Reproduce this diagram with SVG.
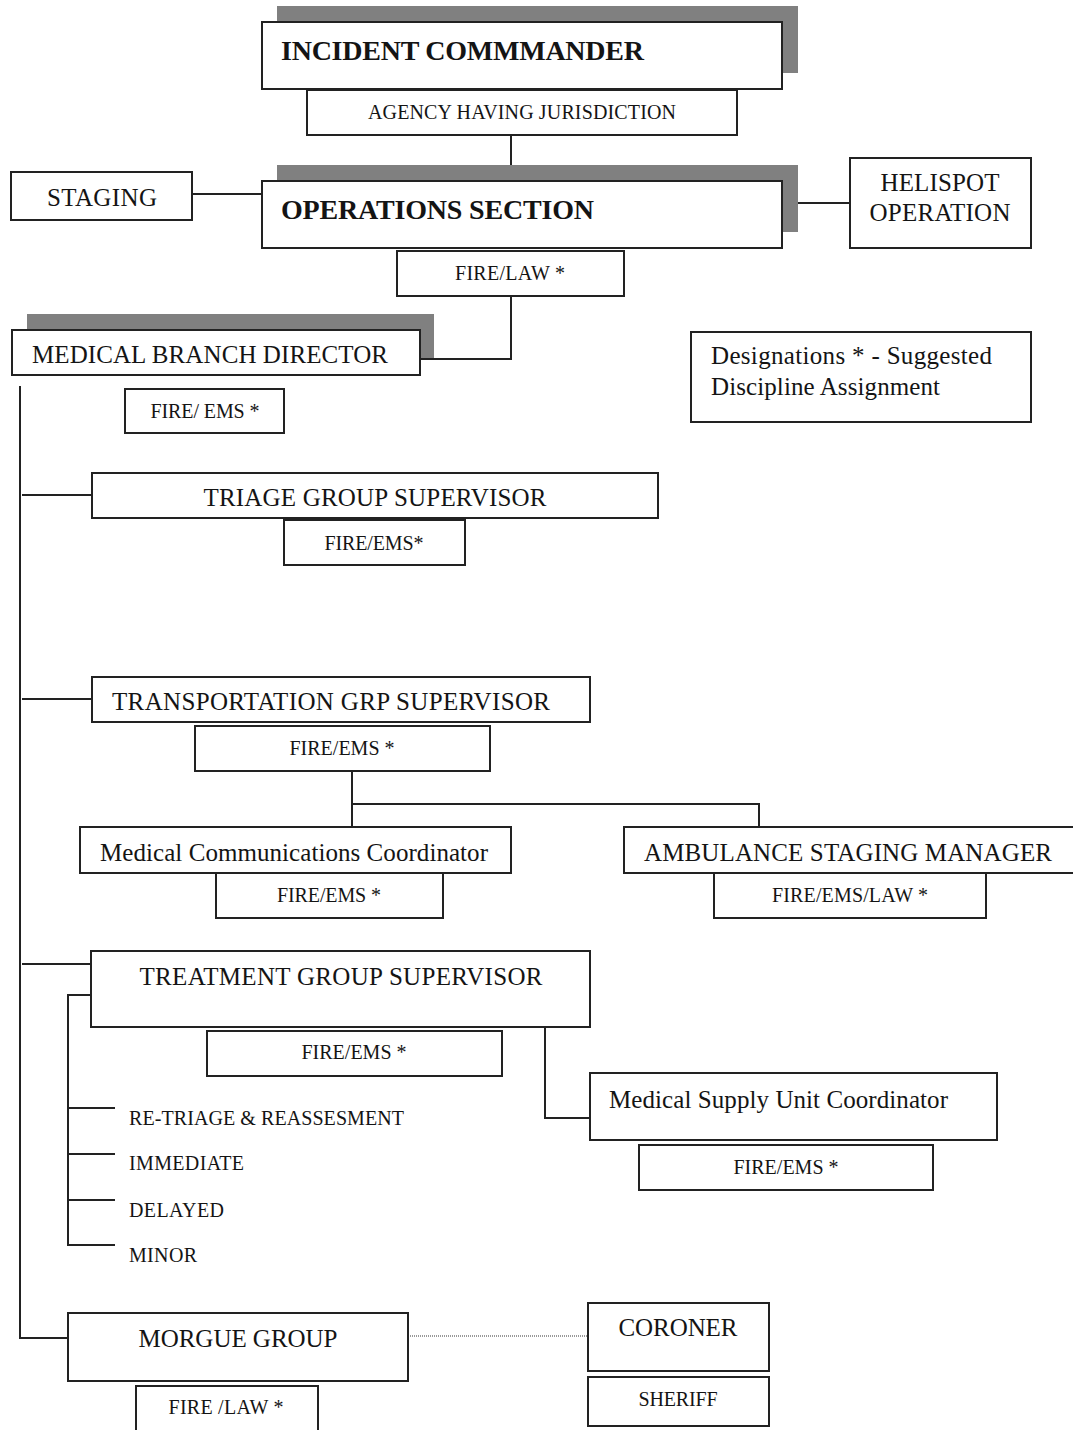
<svg xmlns="http://www.w3.org/2000/svg" width="1073" height="1430" viewBox="0 0 1073 1430">
<style>
.b{fill:#fff;stroke:#222;stroke-width:2}
.s{fill:#808080;stroke:none}
.c{fill:none;stroke:#222;stroke-width:2}
text{font-family:"Liberation Serif","Times New Roman",serif;fill:#141414}
.h{font-weight:bold;font-size:28px}
.m{font-size:25px}
.sm{font-size:20px}
.t{font-size:20px}
.mid{text-anchor:middle}
</style>
<rect width="1073" height="1430" fill="#fff"/>
<g id="connectors">
<path class="c" d="M511,135V165"/>
<path class="c" d="M192,194H262"/>
<path class="c" d="M782,203H850"/>
<path class="c" d="M511,296V359H420"/>
<path class="c" d="M20,386V1338H68"/>
<path class="c" d="M22,495H92"/>
<path class="c" d="M22,699H92"/>
<path class="c" d="M352,771V827"/>
<path class="c" d="M352,804H759V827"/>
<path class="c" d="M22,964H91"/>
<path class="c" d="M91,995H68V1245H115M68,1108H115M68,1154H115M68,1200H115"/>
<path class="c" d="M545,1027V1118H590"/>
<path d="M408,1336H588" fill="none" stroke="#999" stroke-width="2" stroke-dasharray="1,1"/>
</g>
<g id="incident-commander">
<rect class="s" x="277" y="6" width="521" height="67"/>
<rect class="b" x="262" y="22" width="520" height="67"/>
<text class="h" x="281" y="60" textLength="363">INCIDENT COMMMANDER</text>
</g>
<g id="agency">
<rect class="b" x="307" y="90" width="430" height="45"/>
<text class="sm mid" x="522" y="119" textLength="308">AGENCY HAVING JURISDICTION</text>
</g>
<g id="operations">
<rect class="s" x="277" y="165" width="521" height="67"/>
<rect class="b" x="262" y="181" width="520" height="67"/>
<text class="h" x="281" y="219" textLength="313">OPERATIONS SECTION</text>
</g>
<g id="staging">
<rect class="b" x="11" y="172" width="181" height="48"/>
<text class="m mid" x="102" y="206" textLength="110">STAGING</text>
</g>
<g id="helispot">
<rect class="b" x="850" y="158" width="181" height="90"/>
<text class="m mid" x="940" y="191" textLength="119">HELISPOT</text>
<text class="m mid" x="940" y="221" textLength="141">OPERATION</text>
</g>
<g id="ops-fire-law">
<rect class="b" x="397" y="251" width="227" height="45"/>
<text class="sm mid" x="510" y="280" textLength="110">FIRE/LAW *</text>
</g>
<g id="medical-branch">
<rect class="s" x="27" y="314" width="407" height="44"/>
<rect class="b" x="12" y="330" width="408" height="45"/>
<text class="m" x="32" y="363" textLength="356">MEDICAL BRANCH DIRECTOR</text>
</g>
<g id="mb-fire-ems">
<rect class="b" x="125" y="389" width="159" height="44"/>
<text class="sm mid" x="205" y="418" textLength="109">FIRE/ EMS *</text>
</g>
<g id="designations">
<rect class="b" x="691" y="332" width="340" height="90"/>
<text class="m" x="711" y="364" textLength="281">Designations * -  Suggested</text>
<text class="m" x="711" y="395" textLength="229">Discipline Assignment</text>
</g>
<g id="triage">
<rect class="b" x="92" y="473" width="566" height="45"/>
<text class="m mid" x="375" y="506" textLength="343">TRIAGE GROUP SUPERVISOR</text>
</g>
<g id="triage-fire-ems">
<rect class="b" x="284" y="520" width="181" height="45"/>
<text class="sm mid" x="374" y="550" textLength="99">FIRE/EMS*</text>
</g>
<g id="transportation">
<rect class="b" x="92" y="677" width="498" height="45"/>
<text class="m mid" x="331" y="710" textLength="438">TRANSPORTATION GRP SUPERVISOR</text>
</g>
<g id="trans-fire-ems">
<rect class="b" x="195" y="726" width="295" height="45"/>
<text class="sm mid" x="342" y="755" textLength="105">FIRE/EMS *</text>
</g>
<g id="med-comm">
<rect class="b" x="80" y="827" width="431" height="46"/>
<text class="m mid" x="294" y="861" textLength="388">Medical Communications Coordinator</text>
</g>
<g id="medcomm-fire-ems">
<rect class="b" x="216" y="873" width="227" height="45"/>
<text class="sm mid" x="329" y="902" textLength="104">FIRE/EMS *</text>
</g>
<g id="ambulance">
<rect class="b" x="624" y="827" width="452" height="46"/>
<text class="m mid" x="848" y="861" textLength="408">AMBULANCE STAGING MANAGER</text>
</g>
<g id="amb-fire-ems-law">
<rect class="b" x="714" y="873" width="272" height="45"/>
<text class="sm mid" x="850" y="902" textLength="156">FIRE/EMS/LAW *</text>
</g>
<g id="treatment">
<rect class="b" x="91" y="951" width="499" height="76"/>
<text class="m mid" x="341" y="985" textLength="403">TREATMENT GROUP SUPERVISOR</text>
</g>
<g id="treat-fire-ems">
<rect class="b" x="207" y="1031" width="295" height="45"/>
<text class="sm mid" x="354" y="1059" textLength="105">FIRE/EMS *</text>
</g>
<g id="treatment-list">
<text class="t" x="129" y="1125" textLength="275">RE-TRIAGE &amp; REASSESMENT</text>
<text class="t" x="129" y="1170" textLength="115">IMMEDIATE</text>
<text class="t" x="129" y="1217" textLength="95">DELAYED</text>
<text class="t" x="129" y="1262" textLength="68">MINOR</text>
</g>
<g id="med-supply">
<rect class="b" x="590" y="1073" width="407" height="67"/>
<text class="m" x="609" y="1108" textLength="339">Medical Supply Unit Coordinator</text>
</g>
<g id="supply-fire-ems">
<rect class="b" x="639" y="1145" width="294" height="45"/>
<text class="sm mid" x="786" y="1174" textLength="105">FIRE/EMS *</text>
</g>
<g id="morgue">
<rect class="b" x="68" y="1313" width="340" height="68"/>
<text class="m mid" x="238" y="1347" textLength="199">MORGUE GROUP</text>
</g>
<g id="morgue-fire-law">
<rect class="b" x="136" y="1386" width="182" height="50"/>
<text class="sm mid" x="226" y="1414" textLength="115">FIRE /LAW *</text>
</g>
<g id="coroner">
<rect class="b" x="588" y="1303" width="181" height="68"/>
<text class="m mid" x="678" y="1336" textLength="119">CORONER</text>
</g>
<g id="sheriff">
<rect class="b" x="588" y="1377" width="181" height="49"/>
<text class="sm mid" x="678" y="1406" textLength="79">SHERIFF</text>
</g>
</svg>
